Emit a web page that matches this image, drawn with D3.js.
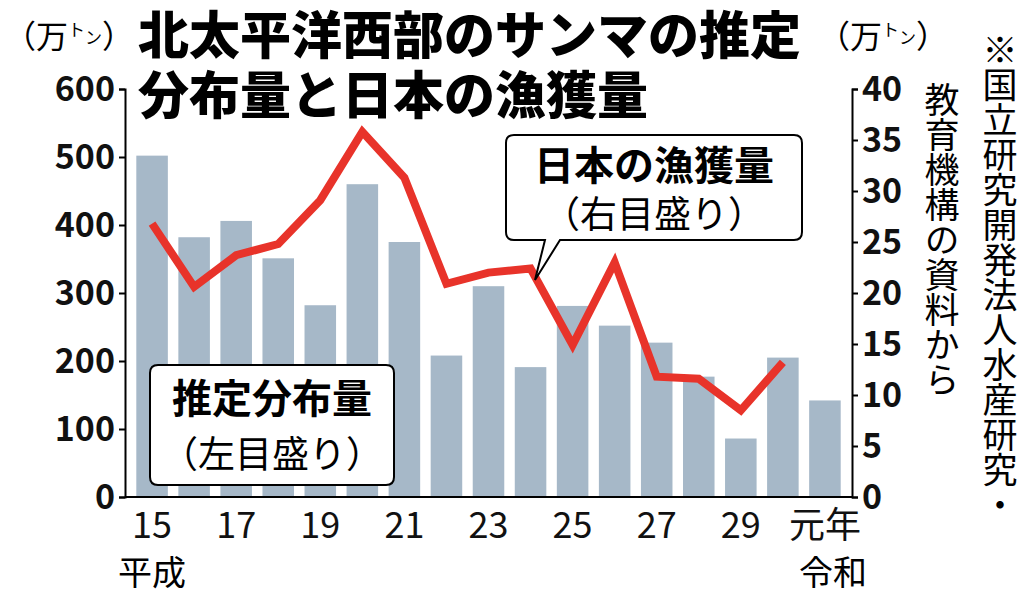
<!DOCTYPE html>
<html><head><meta charset="utf-8">
<script src="https://cdn.jsdelivr.net/npm/d3@7"></script>
<style>body{margin:0;background:#fff}svg{display:block}text{font-family:"Noto Sans CJK JP","Noto Sans",sans-serif}</style>
</head><body><svg id="c" width="1024" height="599"></svg>
<script>
const years=["15","16","17","18","19","20","21","22","23","24","25","26","27","28","29","30","元年"];
const tickLabels={"15":"15","17":"17","19":"19","21":"21","23":"23","25":"25","27":"27","29":"29","元年":"元年"};
const distribution=[502,382,406,351,282,460,375,208,310,191,281,252,227,177,86,205,142];
const catch_=[26.8,20.6,23.7,24.8,29.1,35.8,31.3,20.9,22.0,22.4,14.9,23.0,11.8,11.6,8.5,13.2];
const leftTicks=[0,100,200,300,400,500,600];
const rightTicks=[0,5,10,15,20,25,30,35,40];

const svg=d3.select("#c");
const L=125,R=852,T=89,B=497;
const x=d3.scaleBand().domain(years).range([L+5,R-5]).paddingInner(0.25).paddingOuter(0.15);
const yL=d3.scaleLinear().domain([0,600]).range([B,T]);
const yR=d3.scaleLinear().domain([0,40]).range([B,T]);

svg.selectAll("rect.bar").data(distribution).join("rect").attr("class","bar")
 .attr("x",(d,i)=>x(years[i])).attr("width",x.bandwidth())
 .attr("y",d=>yL(d)).attr("height",d=>B-yL(d)).attr("fill","#a6b8c8");

const line=d3.line().x((d,i)=>x(years[i])+x.bandwidth()/2).y(d=>yR(d));
svg.append("path").attr("d",line(catch_)).attr("fill","none").attr("stroke","#e8332a").attr("stroke-width",8).attr("stroke-linejoin","miter");

const num="Liberation Sans, Arial, sans-serif";
const gl=svg.append("g").attr("transform",`translate(${L},0)`).call(d3.axisLeft(yL).tickValues(leftTicks).tickSize(6).tickPadding(4));
const gr=svg.append("g").attr("transform",`translate(${R},0)`).call(d3.axisRight(yR).tickValues(rightTicks).tickSize(6).tickPadding(4));
[gl,gr].forEach(g=>{g.select(".domain").attr("stroke","#000").attr("stroke-width",2);g.selectAll("line").attr("stroke","#000").attr("stroke-width",2);
 g.selectAll("text").attr("font-family",num).attr("font-weight","bold").attr("font-size",34).attr("fill","#111").attr("dy","0.35em");});
svg.append("line").attr("x1",L).attr("x2",R).attr("y1",B).attr("y2",B).attr("stroke","#000").attr("stroke-width",2);

const gx=svg.append("g").attr("transform",`translate(0,${B})`).call(d3.axisBottom(x).tickValues(Object.keys(tickLabels)).tickFormat(d=>tickLabels[d]).tickSize(0).tickPadding(14));
gx.select(".domain").remove();
gx.selectAll("text").attr("font-family",d=>d==="元年"?"Noto Sans CJK JP":num).attr("font-size",36).attr("fill","#111").attr("dy","0.75em");
svg.append("text").attr("x",x("15")+x.bandwidth()/2).attr("y",585).attr("text-anchor","middle").attr("font-size",34).text("平成");
svg.append("text").attr("x",x("元年")+x.bandwidth()/2+8).attr("y",585).attr("text-anchor","middle").attr("font-size",34).text("令和");

svg.append("text").attr("x",4).attr("y",48).attr("font-size",32).html('（万<tspan font-size="17" dy="-12">ト</tspan><tspan font-size="17" dy="8">ン</tspan><tspan dy="4">）</tspan>');
svg.append("text").attr("x",818).attr("y",48).attr("font-size",32).html('（万<tspan font-size="17" dy="-12">ト</tspan><tspan font-size="17" dy="8">ン</tspan><tspan dy="4">）</tspan>');
svg.append("text").attr("x",138).attr("y",54).attr("font-size",51).attr("font-weight","900").text("北太平洋西部のサンマの推定");
svg.append("text").attr("x",138).attr("y",114).attr("font-size",51).attr("font-weight","900").text("分布量と日本の漁獲量");
svg.append("text").attr("x",1000).attr("y",32).attr("font-size",35).style("writing-mode","vertical-rl").text("※国立研究開発法人水産研究・");
svg.append("text").attr("x",942).attr("y",82).attr("font-size",35).style("writing-mode","vertical-rl").text("教育機構の資料から");

svg.append("path").attr("d","M158,365 H386 Q394,365 394,373 V477 Q394,485 386,485 H158 Q150,485 150,477 V373 Q150,365 158,365 Z").attr("fill","#fff").attr("stroke","#000").attr("stroke-width",2);
svg.append("text").attr("x",272).attr("y",413).attr("text-anchor","middle").attr("font-size",40).attr("font-weight","bold").text("推定分布量");
svg.append("text").attr("x",272).attr("y",468).attr("text-anchor","middle").attr("font-size",37).text("（左目盛り）");
svg.append("path").attr("d","M514,135 H794 Q802,135 802,143 V232 Q802,240 794,240 H560 L535,280 L545,240 H514 Q506,240 506,232 V143 Q506,135 514,135 Z").attr("fill","#fff").attr("stroke","#000").attr("stroke-width",2);
svg.append("text").attr("x",654).attr("y",180).attr("text-anchor","middle").attr("font-size",40).attr("font-weight","bold").text("日本の漁獲量");
svg.append("text").attr("x",654).attr("y",228).attr("text-anchor","middle").attr("font-size",37).text("（右目盛り）");
</script></body></html>
